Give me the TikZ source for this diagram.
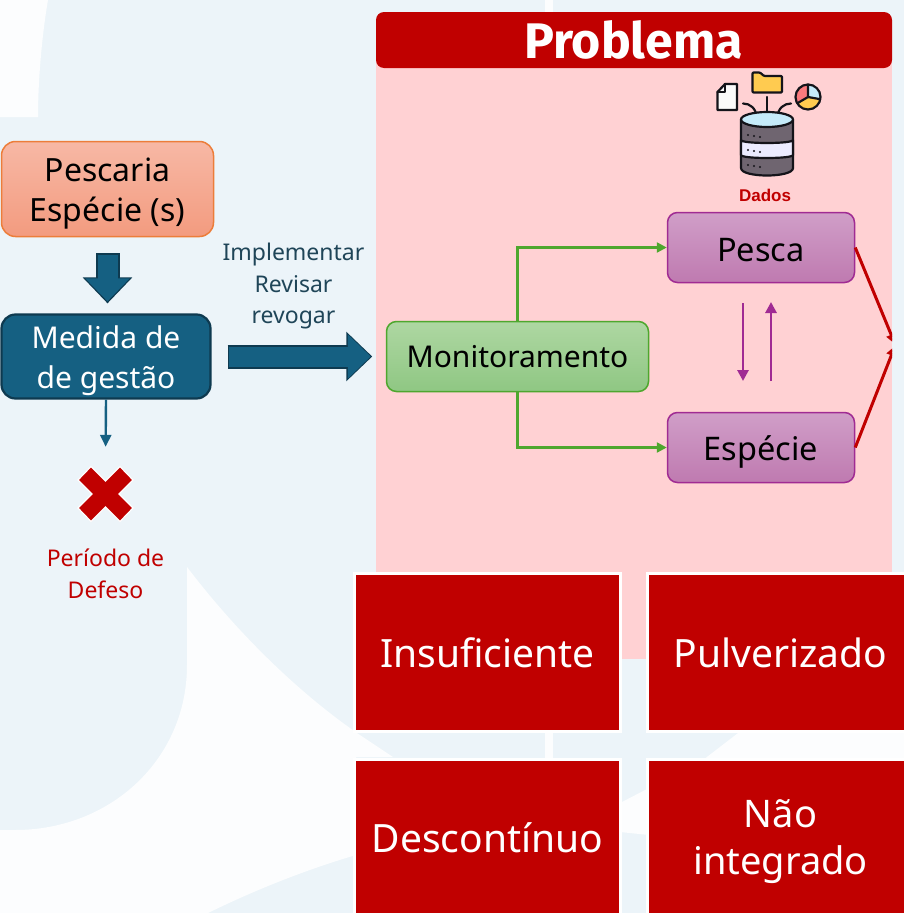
\documentclass[tikz,border=0pt]{standalone}
\usepackage{fontspec}
\setmainfont{Noto Sans}
\newfontfamily\headfont{Fira Sans}
\newfontfamily\dadosfont{Liberation Sans}
\usetikzlibrary{arrows.meta,calc}
\newcommand{\tstr}[1]{\rule{0pt}{#1pt}}
\definecolor{bgblue}{HTML}{ECF4F9}
\definecolor{bgwhite}{HTML}{FCFDFE}
\definecolor{panelpink}{HTML}{FFD1D3}
\definecolor{dred}{HTML}{C00000}
\definecolor{teal}{HTML}{156082}
\definecolor{tealdark}{HTML}{0E3A50}
\definecolor{labelink}{HTML}{1F4558}
\definecolor{grn}{HTML}{4EA72E}
\definecolor{purp}{HTML}{A02B93}
\definecolor{cylgrey}{HTML}{6F6570}
\definecolor{iconink}{HTML}{14141A}
\definecolor{folderyel}{HTML}{FFCB50}
\definecolor{piered}{HTML}{FA7A7D}
\definecolor{pieblue}{HTML}{C5EBFA}
\definecolor{orgline}{HTML}{EC7D3A}
\definecolor{orgtop}{HTML}{F7B8A5}
\definecolor{orgbot}{HTML}{F39B7F}
\definecolor{grntop}{HTML}{AED7A2}
\definecolor{grnbot}{HTML}{8FC783}
\definecolor{purtop}{HTML}{D09EC8}
\definecolor{purbot}{HTML}{BF7AB0}
\tikzset{
  box/.style={rounded corners=14pt,inner sep=0pt,align=center,font=\fontsize{30}{40}\selectfont,line width=1.5pt,text=black},
  orangebox/.style={box,draw=orgline,top color=orgtop,bottom color=orgbot,font=\fontsize{32}{40}\selectfont},
  medbox/.style={box,draw=tealdark,fill=teal,text=white,line width=2.2pt},
  greenbox/.style={box,draw=grn,top color=grntop,bottom color=grnbot},
  purpbox/.style={box,draw=purp,top color=purtop,bottom color=purbot,font=\fontsize{32.5}{40}\selectfont},
  redcard/.style={fill=dred,draw=white,line width=3pt,inner sep=0pt,align=center,text=white,font=\fontsize{39}{47}\selectfont,minimum width=266pt},
  bluelabel/.style={align=center,text=labelink,font=\fontsize{23}{31.5}\selectfont,inner sep=0pt},
  redlabel/.style={align=center,text=dred,font=\fontsize{23}{31.5}\selectfont,inner sep=0pt},
  blockout/.style={draw=tealdark,-{Triangle[width=48pt,length=26pt]},line width=24pt},
  blockin/.style={draw=teal,-{Triangle[width=43pt,length=23pt]},line width=20pt},
  grnline/.style={draw=grn,line width=2.4pt,-{Triangle[width=10pt,length=10pt]}},
  purline/.style={draw=purp,line width=2.8pt,-{Triangle[width=11pt,length=11pt]}},
  redline/.style={draw=dred,line width=3pt,-{Triangle[width=10pt,length=10pt]}},
  thinline/.style={draw=teal,line width=2.4pt,-{Triangle[width=11pt,length=12pt]}},
  ink/.style={draw=iconink,line width=2.2pt,line join=round,line cap=round},
}
\begin{document}
\begin{tikzpicture}[x=1pt,y=-1pt]
\useasboundingbox (0,0) rectangle (904,913);
% background
\fill[bgblue] (0,0) rectangle (904,913);
\fill[bgwhite] (0,0) -- (48,0) .. controls (42,35) and (38,80) .. (38,117) -- (0,117) -- cycle;
\fill[bgwhite] (187,567) -- (187,665) .. controls (187,760) and (110,830) .. (15,830) -- (0,830) -- (0,913) -- (208,913)
  .. controls (255,890) and (305,870) .. (356,855) -- (356,733) -- (357,733)
  .. controls (295,690) and (235,630) .. (187,567) -- cycle;
\fill[bgwhite] (356,733) -- (357,733) -- (393,757) -- (356,757) -- cycle;
\fill[bgwhite] (545,0) rectangle (553,12);
\fill[bgwhite] (545,730) rectangle (553,762);
\fill[bgwhite] (620,803) -- (649,788) -- (649,835) -- (620,832) -- cycle;
\fill[bgwhite] (904,730) -- (742,730) -- (703,760) -- (904,760) -- cycle;
% panel
\fill[panelpink] (376,60) rectangle (892,659);
\fill[dred,rounded corners=8pt] (376,12) rectangle (892,68);
\node[text=white,font=\headfont\bfseries\fontsize{50}{50}\selectfont,inner sep=0pt] (titulo) at (633.5,40) {Problema};
% nodes
\node[orangebox,minimum width=212pt,minimum height=95pt] (pesc) at (107.5,189) {\tstr{32}Pescaria\\Espécie (s)};
\node[medbox,minimum width=209pt,minimum height=84pt] (med) at (106,356.5) {\tstr{31}Medida de\\de gestão};
\node[greenbox,minimum width=262pt,minimum height=70pt,rounded corners=10pt] (mon) at (517.5,356.5) {Monitoramento};
\node[purpbox,minimum width=187pt,minimum height=70pt,rounded corners=10pt] (pesca) at (761,247.5) {\tstr{28}Pesca};
\node[purpbox,minimum width=187pt,minimum height=70pt,rounded corners=10pt] (esp) at (761,447.5) {\tstr{34}Espécie};
\node[bluelabel] (impl) at (293.5,283) {\tstr{24}Implementar\\Revisar\\revogar};
\node[redlabel] (defeso) at (105.5,574) {Período de\\Defeso};
% block arrows
\draw[blockout,shorten <=16pt,shorten >=13.5pt] (med.east) -- (mon.west);
\draw[blockin,shorten <=17.5pt,shorten >=15pt] (med.east) -- (mon.west);
\draw[blockout,shorten <=16pt,shorten >=10pt] (pesc.south) -- (pesc.south |- med.north);
\draw[blockin,shorten <=17.5pt,shorten >=12pt] (pesc.south) -- (pesc.south |- med.north);
% thin arrow + cross
\node[inner sep=0pt,minimum size=54pt] (cross) at (105.5,494) {};
\draw[thinline,shorten >=20pt] (med.south) -- (cross.north);
\filldraw[fill=dred,draw=white,line width=1.2pt,line join=miter] (105.5,481) -- (120,466.5) -- (133,480) -- (119,494) -- (133,508) -- (120,521.5) -- (105.5,507) -- (91,521.5) -- (78,508) -- (92,494) -- (78,480) -- (91,466.5) -- cycle;
% connectors
\draw[grnline] (mon.north) |- (pesca.west);
\draw[grnline] (mon.south) |- (esp.west);
\coordinate (a1) at (743,303); \coordinate (a2) at (743,381);
\coordinate (b1) at (771,381); \coordinate (b2) at (771,302);
\draw[purline] (a1) -- (a2);
\draw[purline] (b1) -- (b2);
\coordinate (r1) at (895,345);
\begin{scope}
\clip (840,200) rectangle (892,500);
\draw[redline] (pesca.east) -- ($(r1)+(0,-1)$);
\draw[redline] (esp.east) -- ($(r1)+(0,1)$);
\end{scope}
% icon
\begin{scope}
 % document
 \filldraw[ink,fill=white!96!gray] (725,84) -- (737,84) -- (737,110) -- (717.5,110) -- (717.5,92) -- cycle;
 \draw[ink] (725,84) -- (725,92) -- (717.5,92);
 % folder
 \filldraw[ink,fill=folderyel,rounded corners=1pt] (752.5,72.5) -- (760,72.5) -- (764,76) -- (782,76) -- (782,92.5) -- (752.5,92.5) -- cycle;
 % pie
 \fill[piered] (808,97) circle (12.5);
 \fill[pieblue] (808,97) -- (808,84.5) arc[start angle=-90,delta angle=100,radius=12.5] -- cycle;
 \fill[folderyel] (808,97) -- (820.3,99.2) arc[start angle=10,delta angle=140,radius=12.5] -- cycle;
 \draw[ink] (808,97) circle (12.5);
 \draw[ink] (808,84.5) -- (808,97) -- (820.3,99.2) (808,97) -- (797.2,103.3);
 % wires
 \draw[ink] (767,97) -- (767,118);
 \draw[ink] (743,103.5) .. controls (750,103.5) and (756,108) .. (757,118);
 \draw[ink] (791,103.5) .. controls (784,103.5) and (778,108) .. (777,118);
 % cylinder
 \filldraw[ink,fill=cylgrey] (741,120) -- (741,168) .. controls (741,178) and (793,178) .. (793,168) -- (793,120) -- cycle;
 \filldraw[ink,fill=white!92!blue] (741,140) .. controls (741,144) and (793,144) .. (793,140) -- (793,155) .. controls (793,159) and (741,159) .. (741,155) -- cycle;
 \filldraw[ink,fill=pieblue] (767,119.5) ellipse (26 and 7.5);
 \foreach \yy in {135,150,165} { \fill[iconink] (748,\yy) circle (1.1) (754,\yy+1) circle (1.1) (760,\yy+2) circle (1.1); }
\end{scope}
\node[inner sep=0pt,text=dred,font=\dadosfont\bfseries\fontsize{17}{17}\selectfont] (dados) at (765,195) {Dados};
% cards
\node[redcard,minimum height=158pt] (c1) at (487.5,652.5) {Insuficiente};
\node[redcard,minimum height=158pt] (c2) at (780.5,652.5) {Pulverizado};
\node[redcard,minimum height=157pt] (c3) at (487.5,838) {Descontínuo};
\node[redcard,minimum height=157pt,font=\fontsize{38}{47}\selectfont] (c4) at (780.5,838) {\tstr{35}Não\\integrado};
\end{tikzpicture}
\end{document}
